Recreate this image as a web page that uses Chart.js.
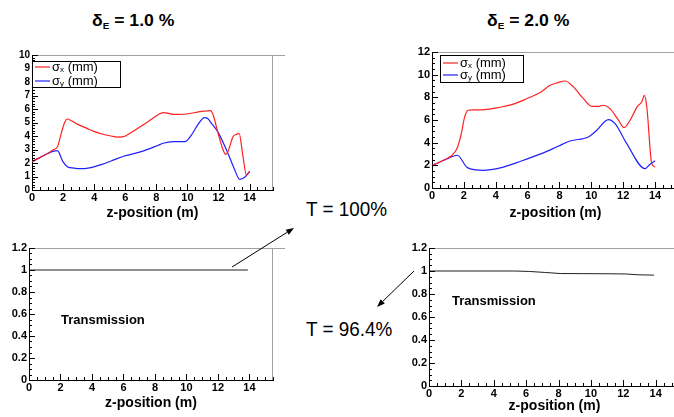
<!DOCTYPE html>
<html>
<head>
<meta charset="utf-8">
<script src="https://cdn.jsdelivr.net/npm/chart.js@4.4.0/dist/chart.umd.min.js"></script>
<style>
  html, body { margin: 0; padding: 0; background: #fff; }
  body { width: 674px; height: 417px; position: relative; overflow: hidden; font-family: "Liberation Sans", Arial, sans-serif; color: #000; }
  canvas { position: absolute; }
  .title { position: absolute; font-weight: bold; font-size: 16px; line-height: 16px; white-space: nowrap; transform: scaleX(1.1); transform-origin: left top; }
  .title sub { font-size: 9px; vertical-align: -3px; line-height: 0; }
  .trans { position: absolute; font-weight: bold; font-size: 13px; line-height: 13px; white-space: nowrap; }
  .tlabel { position: absolute; font-size: 21px; line-height: 21px; white-space: nowrap; transform: scaleX(0.9); transform-origin: left top; }
  #arrows { position: absolute; left: 0; top: 0; }
</style>
</head>
<body>
<div class="title" style="left:92px;top:13px">&delta;<sub>E</sub> = 1.0 %</div>
<div class="title" style="left:487px;top:13px">&delta;<sub>E</sub> = 2.0 %</div>
<div class="tlabel" style="left:306px;top:198px">T = 100%</div>
<div class="tlabel" style="left:306px;top:318px">T = 96.4%</div>

<canvas id="c1" width="285" height="185" style="left:0;top:45px"></canvas>
<canvas id="c2" width="300" height="190" style="left:390px;top:40px"></canvas>
<canvas id="c3" width="285" height="182" style="left:0;top:235px"></canvas>
<canvas id="c4" width="300" height="182" style="left:390px;top:235px"></canvas>

<div class="trans" style="left:61px;top:313px">Transmission</div>
<div class="trans" style="left:452px;top:294px">Transmission</div>

<svg id="arrows" width="674" height="417"></svg>

<script>
// ---- data ----
const zTicks = [0, 2, 4, 6, 8, 10, 12, 14];
const sigTicks1 = [0, 1, 2, 3, 4, 5, 6, 7, 8, 9, 10];
const sigTicks2 = [0, 2, 4, 6, 8, 10, 12];
const transTicks = [0, 0.2, 0.4, 0.6, 0.8, 1, 1.2];

// dE = 1.0 %
const z1x = [0, 0.5, 1.0, 1.4, 1.65, 1.88, 2.1, 2.27, 2.5, 2.95, 3.5, 4.03, 4.5, 5.09, 5.5, 5.84, 6.3, 6.81, 7.5, 8.09, 8.43, 8.7, 9.08, 9.93, 10.79, 11.2, 11.48, 11.65, 11.97, 12.29, 12.46, 12.6, 12.93, 13.15, 13.32, 13.57, 13.79, 14.0];
const s1x = [2.1, 2.4, 2.7, 3.0, 3.22, 4.2, 5.0, 5.26, 5.15, 4.86, 4.58, 4.32, 4.15, 4.0, 3.92, 3.93, 4.2, 4.57, 5.1, 5.56, 5.73, 5.7, 5.6, 5.63, 5.8, 5.85, 5.88, 5.56, 4.2, 2.96, 2.64, 2.84, 3.95, 4.12, 4.2, 2.47, 1.11, 1.36];
const z1y = [0, 0.5, 1.0, 1.63, 1.99, 2.27, 2.7, 3.17, 3.6, 4.03, 4.5, 5.09, 5.95, 7.02, 8.09, 8.43, 9.08, 9.83, 10.25, 10.7, 11.11, 11.3, 11.54, 11.97, 12.6, 13.0, 13.36, 13.68, 14.0];
const s1y = [2.1, 2.4, 2.7, 2.91, 2.1, 1.73, 1.62, 1.58, 1.62, 1.73, 1.9, 2.15, 2.52, 2.84, 3.3, 3.46, 3.58, 3.58, 4.07, 4.9, 5.36, 5.3, 4.94, 4.27, 2.72, 1.6, 0.79, 0.94, 1.4];

// dE = 2.0 %
const z2x = [0, 0.5, 1.0, 1.3, 1.59, 1.84, 2.05, 2.26, 2.6, 3.31, 4.0, 4.56, 5.2, 5.82, 6.86, 7.41, 7.91, 8.35, 8.87, 9.5, 10.02, 10.4, 10.75, 11.17, 11.7, 12.05, 12.43, 12.89, 13.16, 13.33, 13.48, 13.79, 14.0];
const s2x = [2.0, 2.3, 2.65, 2.95, 3.56, 4.8, 6.27, 6.86, 6.9, 6.92, 7.05, 7.21, 7.45, 7.8, 8.5, 9.06, 9.3, 9.44, 8.92, 7.89, 7.21, 7.2, 7.3, 7.0, 5.98, 5.33, 5.98, 7.21, 7.59, 8.18, 7.15, 2.15, 1.85];
const z2y = [0, 0.5, 1.0, 1.59, 2.22, 3.2, 4.35, 5.61, 6.86, 7.91, 8.66, 9.81, 10.34, 11.07, 11.49, 12.22, 13.37, 13.68, 14.0];
const s2y = [2.0, 2.3, 2.6, 2.89, 1.8, 1.56, 1.8, 2.38, 3.03, 3.68, 4.15, 4.5, 5.09, 6.04, 5.68, 3.92, 1.71, 2.1, 2.4];

// transmission
const zT1 = [0, 13.9];
const t1 = [1, 1];
const zT2 = [0, 5.3, 6.2, 7.2, 8.1, 9.5, 11, 12.2, 12.9, 13.9];
const t2 = [1, 1, 0.996, 0.987, 0.978, 0.977, 0.976, 0.974, 0.967, 0.964];

const pts = (xs, ys) => xs.map((x, i) => ({ x: x, y: ys[i] }));

// ROOT-like frame: grey top/right lines, inward major+minor ticks
const rootFrame = {
  id: 'rootFrame',
  afterDraw(chart, args, opts) {
    const { ctx, chartArea: a, scales: { x, y } } = chart;
    ctx.save();
    ctx.lineWidth = 1;
    ctx.strokeStyle = '#a0a0a0';
    ctx.beginPath();
    ctx.moveTo(a.left, a.top + 0.5);
    ctx.lineTo(chart.width, a.top + 0.5);
    if (opts.right) {
      ctx.moveTo(a.right - 0.5, a.top);
      ctx.lineTo(a.right - 0.5, a.bottom);
    }
    ctx.stroke();

    ctx.strokeStyle = '#000';
    ctx.beginPath();
    const isMajor = (list, v) => list.some(t => Math.abs(t - v) < 1e-6);
    for (let i = 0; ; i++) {
      const v = x.min + i * opts.xMinor;
      if (v > x.max + 1e-9) break;
      const px = Math.round(x.getPixelForValue(v)) + 0.5;
      const len = isMajor(opts.xMajor, v) ? 6 : 3;
      ctx.moveTo(px, a.bottom);
      ctx.lineTo(px, a.bottom - len);
    }
    for (let i = 0; ; i++) {
      const v = y.min + i * opts.yMinor;
      if (v > y.max + 1e-9) break;
      const py = Math.round(y.getPixelForValue(v)) + 0.5;
      const len = isMajor(opts.yMajor, v) ? 6 : 3;
      ctx.moveTo(a.left, py);
      ctx.lineTo(a.left + len, py);
    }
    ctx.stroke();
    ctx.restore();
  }
};

// boxed legend inside the frame
const boxLegend = {
  id: 'boxLegend',
  afterDraw(chart, args, opts) {
    const { ctx, chartArea: a } = chart;
    const bx = a.left + opts.x, by = a.top + opts.y;
    ctx.save();
    ctx.fillStyle = '#fff';
    ctx.fillRect(bx, by, opts.w, opts.h);
    ctx.strokeStyle = '#000';
    ctx.lineWidth = 1;
    ctx.strokeRect(bx + 0.5, by + 0.5, opts.w, opts.h);
    chart.data.datasets.forEach((ds, i) => {
      const ry = by + opts.rows[i];
      ctx.strokeStyle = ds.borderColor;
      ctx.lineWidth = 1.2;
      ctx.beginPath();
      ctx.moveTo(bx + opts.line[0], ry);
      ctx.lineTo(bx + opts.line[1], ry);
      ctx.stroke();
      ctx.fillStyle = '#000';
      ctx.textBaseline = 'middle';
      let tx = bx + opts.textX;
      ctx.font = '13px "Liberation Sans", Arial, sans-serif';
      ctx.fillText(ds.label, tx, ry);
      tx += ctx.measureText(ds.label).width;
      ctx.font = '8px "Liberation Sans", Arial, sans-serif';
      ctx.fillText(ds.sub, tx, ry + 3);
      tx += ctx.measureText(ds.sub).width;
      ctx.font = '13px "Liberation Sans", Arial, sans-serif';
      ctx.fillText(' (mm)', tx, ry);
    });
    ctx.restore();
  }
};

const tickFont = size => ({ family: '"Liberation Sans", Arial, sans-serif', weight: 'bold', size: size });

function makeChart(id, c) {
  return new Chart(document.getElementById(id), {
    type: 'line',
    data: { datasets: c.datasets },
    options: {
      responsive: false,
      animation: false,
      events: [],
      layout: { padding: c.padding },
      elements: { point: { radius: 0 }, line: { borderWidth: 1.2, cubicInterpolationMode: 'monotone' } },
      plugins: {
        legend: { display: false },
        tooltip: { enabled: false },
        rootFrame: c.frame,
        boxLegend: c.legend || false
      },
      scales: {
        x: {
          type: 'linear', min: 0, max: 15.5,
          grid: { display: false, drawTicks: false },
          border: { display: true, color: '#000', width: 1 },
          ticks: { color: '#000', font: tickFont(11), padding: 1, autoSkip: false, maxRotation: 0, callback: v => String(v) },
          afterBuildTicks: s => { s.ticks = zTicks.map(v => ({ value: v })); },
          afterFit: s => { s.height = c.xHeight; },
          title: { display: true, text: 'z-position (m)', color: '#000', font: tickFont(14), padding: { top: 0, bottom: c.titlePad } }
        },
        y: {
          type: 'linear', min: 0, max: c.yMax,
          grid: { display: false, drawTicks: false },
          border: { display: true, color: '#000', width: 1 },
          ticks: { color: '#000', font: tickFont(c.yFont), padding: 2, autoSkip: false, callback: v => String(v) },
          afterBuildTicks: s => { s.ticks = c.yTicks.map(v => ({ value: v })); },
          afterFit: s => { s.width = c.yWidth; }
        }
      }
    },
    plugins: [rootFrame, boxLegend]
  });
}

makeChart('c1', {
  datasets: [
    { label: 'σ', sub: 'x', data: pts(z1x, s1x), borderColor: '#ff2020' },
    { label: 'σ', sub: 'y', data: pts(z1y, s1y), borderColor: '#2020ff' }
  ],
  padding: { left: 0, top: 10, right: 12, bottom: 0 },
  yWidth: 32, xHeight: 40, titlePad: 8, yMax: 10, yTicks: sigTicks1, yFont: 10,
  frame: { right: true, xMinor: 0.5, xMajor: zTicks, yMinor: 0.2, yMajor: sigTicks1 },
  legend: { x: 0, y: 6, w: 88, h: 26, rows: [6, 20], line: [3, 18], textX: 20 }
});

makeChart('c2', {
  datasets: [
    { label: 'σ', sub: 'x', data: pts(z2x, s2x), borderColor: '#ff2020' },
    { label: 'σ', sub: 'y', data: pts(z2y, s2y), borderColor: '#2020ff' }
  ],
  padding: { left: 0, top: 12, right: 11, bottom: 0 },
  yWidth: 42, xHeight: 42, titlePad: 8, yMax: 12, yTicks: sigTicks2, yFont: 11,
  frame: { right: true, xMinor: 0.5, xMajor: zTicks, yMinor: 0.5, yMajor: sigTicks2 },
  legend: { x: 8, y: 3, w: 83, h: 27, rows: [8, 20], line: [3, 18], textX: 20 }
});

makeChart('c3', {
  datasets: [
    { label: 'T', data: pts(zT1, t1), borderColor: '#202020', borderWidth: 1, cubicInterpolationMode: 'default', tension: 0 }
  ],
  padding: { left: 0, top: 13, right: 12, bottom: 0 },
  yWidth: 29, xHeight: 37, titlePad: 5, yMax: 1.2, yTicks: transTicks, yFont: 11,
  frame: { right: true, xMinor: 0.5, xMajor: zTicks, yMinor: 0.05, yMajor: transTicks }
});

makeChart('c4', {
  datasets: [
    { label: 'T', data: pts(zT2, t2), borderColor: '#202020', borderWidth: 1, cubicInterpolationMode: 'default', tension: 0 }
  ],
  padding: { left: 0, top: 13, right: 10, bottom: 0 },
  yWidth: 39, xHeight: 31, titlePad: 2, yMax: 1.2, yTicks: transTicks, yFont: 11,
  frame: { right: true, xMinor: 0.5, xMajor: zTicks, yMinor: 0.05, yMajor: transTicks }
});

// annotation arrows
function arrow(x1, y1, x2, y2) {
  const dx = x2 - x1, dy = y2 - y1, len = Math.hypot(dx, dy);
  const ux = dx / len, uy = dy / len, hl = 8, hw = 3;
  const bx = x2 - ux * hl, by = y2 - uy * hl;
  return '<line x1="' + x1 + '" y1="' + y1 + '" x2="' + bx + '" y2="' + by + '" stroke="#000" stroke-width="1"/>' +
    '<polygon fill="#000" points="' + x2 + ',' + y2 + ' ' + (bx - uy * hw) + ',' + (by + ux * hw) + ' ' + (bx + uy * hw) + ',' + (by - ux * hw) + '"/>';
}
document.getElementById('arrows').innerHTML = arrow(232, 267, 294, 228) + arrow(414, 271, 377, 307);
</script>
</body>
</html>
